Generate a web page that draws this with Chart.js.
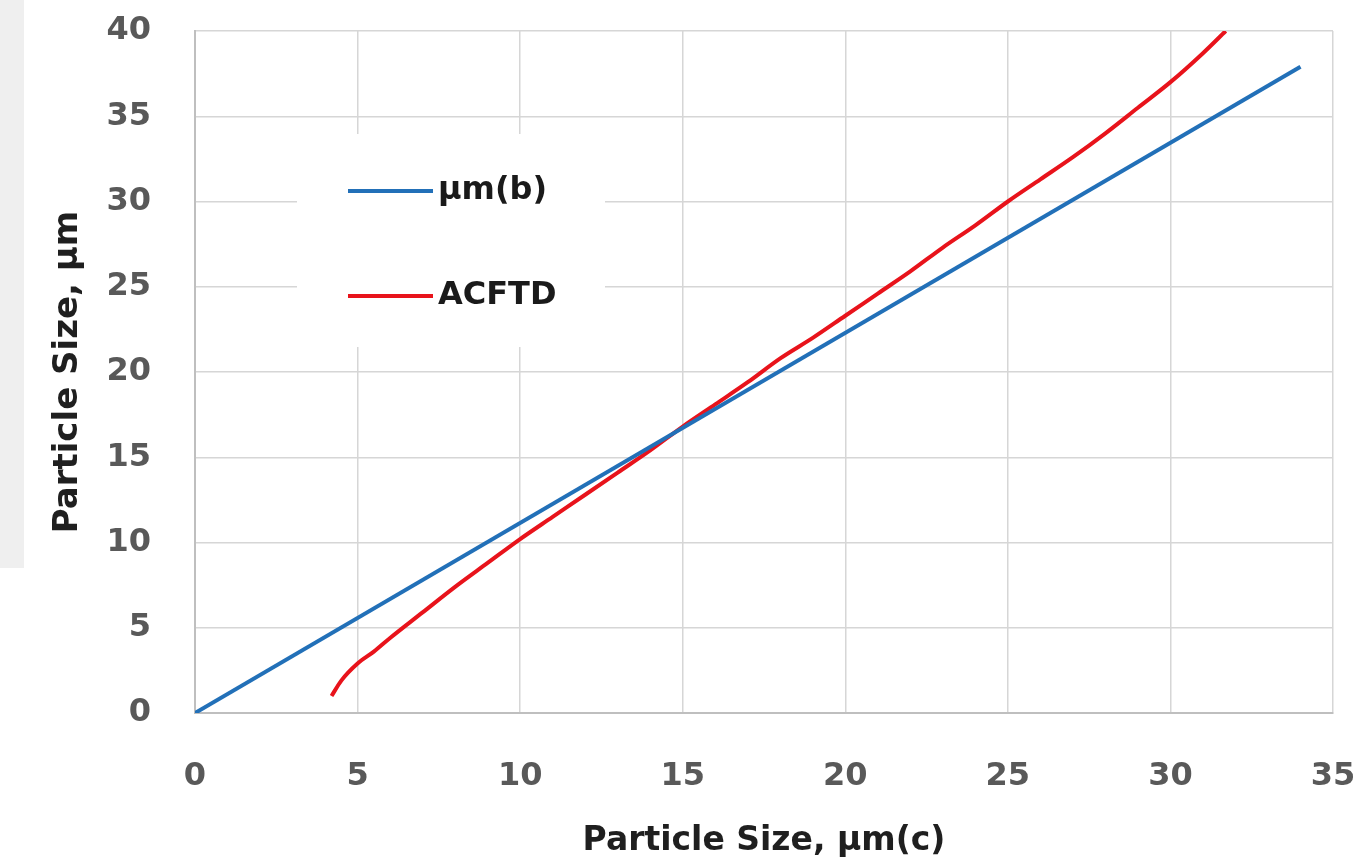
<!DOCTYPE html>
<html>
<head>
<meta charset="utf-8">
<script src="https://cdn.jsdelivr.net/npm/chart.js@4"></script>
<style>
  body { margin: 0; background: #fff; }
  #wrap { position: relative; width: 1360px; height: 865px; }
  #strip { position: absolute; left: 0; top: 0; width: 24px; height: 568px; background: #efefef; }
  canvas { position: relative; display: block; }
</style>
</head>
<body>
<div id="wrap">
  <div id="strip"></div>
  <canvas id="lineChart" width="1360" height="865"></canvas>
</div>
<script>
// values
var blueX = [0, 34];
var blueY = [0, 37.9];
var redX = [4.2, 4.5, 5, 5.5, 6, 7, 8, 9, 10, 11, 12, 13, 14, 15, 16, 17, 18, 19, 20, 21, 22, 23, 24, 25, 26, 27, 28, 29, 30, 31, 31.7];
var redY = [1.0, 1.9, 2.9, 3.6, 4.4, 5.9, 7.4, 8.8, 10.2, 11.5, 12.8, 14.1, 15.4, 16.8, 18.1, 19.4, 20.8, 22.0, 23.3, 24.6, 25.9, 27.3, 28.6, 30.0, 31.3, 32.6, 34.0, 35.5, 37.0, 38.7, 40];
var seriesNames = ["\u00b5m(b)", "ACFTD"];
var xTitle = "Particle Size, \u00b5m(c)";
var yTitle = "Particle Size, \u00b5m";

function toPoints(xs, ys){
    return xs.map(function(x, i){ return {x: x, y: ys[i]}; });
}

var FONT = "'DejaVu Sans', sans-serif";

// legend sits inside the plot with a white box behind it
var insideLegend = {
    id: 'insideLegend',
    afterDraw: function(chart){
        var ctx = chart.ctx;
        ctx.save();
        ctx.fillStyle = '#fff';
        ctx.fillRect(297, 134, 308, 213);
        var rows = [191, 296];
        chart.data.datasets.forEach(function(ds, i){
            ctx.strokeStyle = ds.borderColor;
            ctx.lineWidth = 4;
            ctx.beginPath();
            ctx.moveTo(348, rows[i]);
            ctx.lineTo(433, rows[i]);
            ctx.stroke();
            ctx.fillStyle = '#1a1a1a';
            ctx.font = 'bold 32px ' + FONT;
            ctx.textBaseline = 'middle';
            ctx.fillText(ds.label, 438, rows[i]);
        });
        ctx.restore();
    }
};

var chart = new Chart(document.getElementById('lineChart'), {
    type: 'scatter',
    data: {
        datasets: [
            {
                label: seriesNames[0],
                data: toPoints(blueX, blueY),
                showLine: true,
                borderColor: '#2270b8',
                borderWidth: 4,
                pointRadius: 0
            },
            {
                label: seriesNames[1],
                data: toPoints(redX, redY),
                showLine: true,
                borderColor: '#e8131b',
                borderWidth: 4,
                pointRadius: 0,
                cubicInterpolationMode: 'monotone'
            }
        ]
    },
    options: {
        responsive: false,
        animation: false,
        layout: { padding: { left: 0, top: 31, right: 27, bottom: 0 } },
        plugins: { legend: { display: false }, tooltip: { enabled: false } },
        scales: {
            x: {
                type: 'linear', min: 0, max: 35,
                ticks: { stepSize: 5, color: '#595959', font: { family: FONT, size: 32, weight: 'bold' }, padding: 44 },
                grid: { color: '#d6d6d6', lineWidth: 1.5, drawTicks: false },
                border: { color: '#bfbfbf', width: 2 },
                title: { display: true, text: xTitle, color: '#1f1f1f', font: { family: FONT, size: 33, weight: 'bold' }, padding: { top: 0 } },
                afterFit: function(s){
                    s.height = 865 - 713;
                    s.paddingLeft = 0;
                    s.paddingRight = 0;
                }
            },
            y: {
                type: 'linear', min: 0, max: 40,
                ticks: { stepSize: 5, color: '#595959', font: { family: FONT, size: 32, weight: 'bold' }, padding: 44 },
                grid: { color: '#d6d6d6', lineWidth: 1.5, drawTicks: false },
                border: { color: '#bfbfbf', width: 2 },
                title: { display: true, text: yTitle, color: '#1f1f1f', font: { family: FONT, size: 34, weight: 'bold' }, padding: { top: 48, bottom: 0 } },
                afterFit: function(s){
                    s.width = 195;
                    s.paddingTop = 0;
                    s.paddingBottom = 0;
                }
            }
        }
    },
    plugins: [insideLegend]
});
</script>
</body>
</html>
